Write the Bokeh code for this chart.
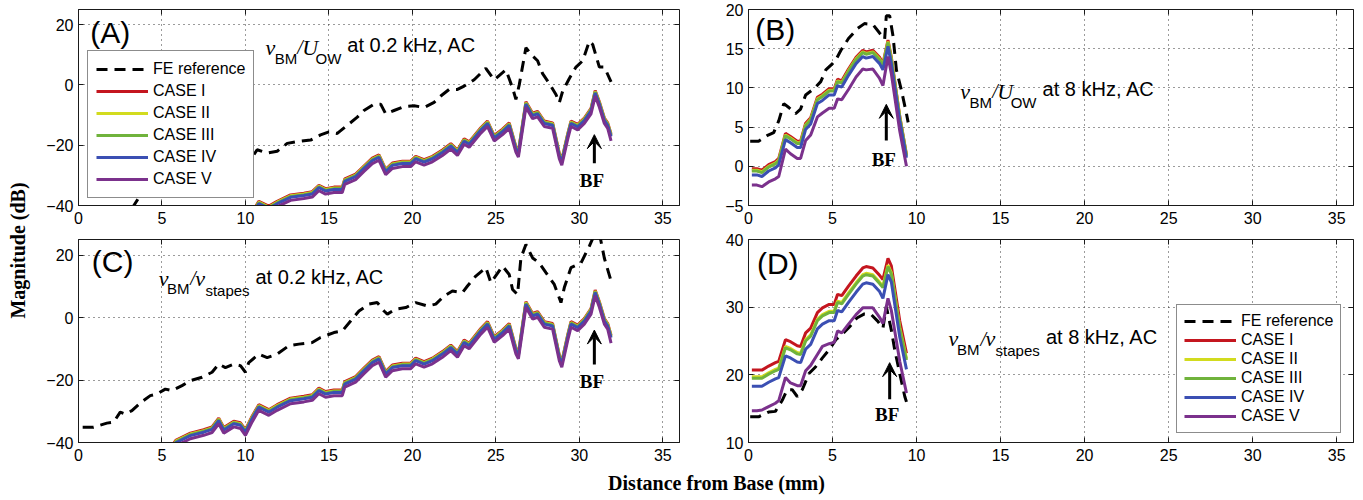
import math
from bokeh.plotting import figure
from bokeh.models import (Range1d, FixedTicker, LinearAxis, Label, Arrow, VeeHead,
                          Legend, LegendItem)
from bokeh.layouts import row, column
from bokeh.embed import file_html
from bokeh.resources import INLINE

# ------------------------------------------------------------------ data
case_names = ["CASE I", "CASE II", "CASE III", "CASE IV", "CASE V"]
case_colors = ["#C4161F", "#D2DB1E", "#70B33C", "#3B4FB3", "#7B318C"]

x_ticks = [0, 5, 10, 15, 20, 25, 30, 35]
y_ticks_ac = [-40, -20, 0, 20]
y_ticks_b = [-5, 0, 5, 10, 15, 20]
y_ticks_d = [10, 20, 30, 40]

# panels A and C (0.2 kHz) : distance grid of the model curves
x_low = [5.5, 5.85, 6.7, 7.5, 8.0, 8.4, 8.7, 9.3, 9.7, 10.0, 10.4, 10.8, 11.4, 11.9, 12.7,
         13.5, 14.0, 14.4, 14.8, 15.3, 15.8, 15.95, 16.6, 17.1, 17.6, 18.0, 18.4, 18.8,
         19.4, 19.9, 20.2, 20.7, 21.2, 21.8, 22.3, 22.7, 23.1, 23.4, 24.1, 24.5, 24.9,
         25.4, 25.8, 26.2, 26.35, 26.8, 27.2, 27.5, 27.9, 28.4, 28.8, 28.95, 29.3, 29.5,
         29.9, 30.3, 30.7, 30.95, 31.2, 31.5, 31.7, 31.9]

a_case1 = [-52.4, -49.9, -47.7, -46.6, -45.7, -42.9, -45.9, -43.9, -44.4, -46.6, -42.3, -38.6, -40.2, -38.6, -36.5, -35.9, -35.4, -33.3, -34.4, -33.9, -33.9, -31.2, -29.6, -26.9, -24.3, -23.2, -28.0, -25.9, -25.3, -25.3, -23.7, -24.8, -23.7, -21.6, -19.5, -21.6, -17.9, -18.9, -14.2, -12.0, -16.8, -14.7, -12.6, -20.5, -22.1, -5.6, -9.4, -8.8, -12.0, -12.6, -22.7, -24.8, -16.3, -12.0, -13.1, -11.0, -7.8, -1.9, -5.6, -11.0, -12.6, -16.3]
a_case2 = [-52.7, -50.2, -48.0, -46.9, -46.0, -43.2, -46.2, -44.2, -44.7, -46.9, -42.6, -38.9, -40.5, -38.9, -36.8, -36.2, -35.7, -33.6, -34.7, -34.2, -34.2, -31.5, -29.9, -27.2, -24.6, -23.5, -28.3, -26.2, -25.6, -25.6, -24.0, -25.1, -24.0, -21.9, -19.8, -21.9, -18.2, -19.2, -14.5, -12.3, -17.1, -15.0, -12.9, -20.8, -22.4, -5.9, -9.7, -9.1, -12.3, -12.9, -23.0, -25.1, -16.6, -12.3, -13.4, -11.3, -8.1, -2.2, -5.9, -11.3, -12.9, -16.6]
a_case3 = [-52.9, -50.4, -48.2, -47.1, -46.2, -43.4, -46.4, -44.4, -44.9, -47.1, -42.8, -39.1, -40.7, -39.1, -37.0, -36.4, -35.9, -33.8, -34.9, -34.4, -34.4, -31.7, -30.1, -27.4, -24.8, -23.7, -28.5, -26.4, -25.8, -25.8, -24.2, -25.3, -24.2, -22.1, -20.0, -22.1, -18.4, -19.4, -14.7, -12.5, -17.3, -15.2, -13.1, -21.0, -22.6, -6.1, -9.9, -9.3, -12.5, -13.1, -23.2, -25.3, -16.8, -12.5, -13.6, -11.5, -8.3, -2.4, -6.1, -11.5, -13.1, -16.8]
a_case4 = [-53.2, -50.7, -48.5, -47.4, -46.5, -43.7, -46.7, -44.7, -45.2, -47.4, -43.1, -39.4, -41.0, -39.4, -37.3, -36.7, -36.2, -34.1, -35.2, -34.7, -34.7, -32.0, -30.4, -27.7, -25.1, -24.0, -28.8, -26.7, -26.1, -26.1, -24.5, -25.6, -24.5, -22.4, -20.3, -22.4, -18.7, -19.7, -15.0, -12.8, -17.6, -15.5, -13.4, -21.3, -22.9, -6.4, -10.2, -9.6, -12.8, -13.4, -23.5, -25.6, -17.1, -12.8, -13.9, -11.8, -8.6, -2.7, -6.4, -11.8, -13.4, -17.1]
a_case5 = [-54.2, -51.7, -49.5, -48.4, -47.5, -44.7, -47.7, -45.7, -46.2, -48.4, -44.1, -40.4, -42.0, -40.4, -38.3, -37.7, -37.2, -35.1, -36.2, -35.7, -35.7, -33.0, -31.4, -28.7, -26.1, -25.0, -29.8, -27.7, -27.1, -27.1, -25.5, -26.6, -25.5, -23.4, -21.3, -23.4, -19.7, -20.7, -16.0, -13.8, -18.6, -16.5, -14.4, -22.3, -23.9, -7.4, -11.2, -10.6, -13.8, -14.4, -24.5, -26.6, -18.1, -13.8, -14.9, -12.8, -9.6, -3.7, -7.4, -12.8, -14.4, -18.6]

c_case1 = [-41.7, -39.2, -37.0, -35.9, -35.0, -32.2, -35.2, -33.2, -33.7, -35.9, -31.6, -27.9, -29.5, -27.9, -25.8, -25.2, -24.7, -22.6, -23.7, -23.2, -23.2, -20.5, -18.9, -16.2, -13.6, -12.5, -17.3, -15.2, -14.6, -14.6, -13.0, -14.1, -13.0, -10.9, -8.8, -10.9, -7.2, -8.2, -3.5, -1.3, -6.1, -4.0, -1.9, -9.8, -11.4, 5.1, 1.3, 1.9, -1.3, -1.9, -12.0, -14.1, -5.6, -1.3, -2.4, -0.3, 2.9, 8.8, 5.1, -0.3, -1.9, -5.6]
c_case2 = [-42.0, -39.5, -37.3, -36.2, -35.3, -32.5, -35.5, -33.5, -34.0, -36.2, -31.9, -28.2, -29.8, -28.2, -26.1, -25.5, -25.0, -22.9, -24.0, -23.5, -23.5, -20.8, -19.2, -16.5, -13.9, -12.8, -17.6, -15.5, -14.9, -14.9, -13.3, -14.4, -13.3, -11.2, -9.1, -11.2, -7.5, -8.5, -3.8, -1.6, -6.4, -4.3, -2.2, -10.1, -11.7, 4.8, 1.0, 1.6, -1.6, -2.2, -12.3, -14.4, -5.9, -1.6, -2.7, -0.6, 2.6, 8.5, 4.8, -0.6, -2.2, -5.9]
c_case3 = [-42.2, -39.7, -37.5, -36.4, -35.5, -32.7, -35.7, -33.7, -34.2, -36.4, -32.1, -28.4, -30.0, -28.4, -26.3, -25.7, -25.2, -23.1, -24.2, -23.7, -23.7, -21.0, -19.4, -16.7, -14.1, -13.0, -17.8, -15.7, -15.1, -15.1, -13.5, -14.6, -13.5, -11.4, -9.3, -11.4, -7.7, -8.7, -4.0, -1.8, -6.6, -4.5, -2.4, -10.3, -11.9, 4.6, 0.8, 1.4, -1.8, -2.4, -12.5, -14.6, -6.1, -1.8, -2.9, -0.8, 2.4, 8.3, 4.6, -0.8, -2.4, -6.1]
c_case4 = [-42.5, -40.0, -37.8, -36.7, -35.8, -33.0, -36.0, -34.0, -34.5, -36.7, -32.4, -28.7, -30.3, -28.7, -26.6, -26.0, -25.5, -23.4, -24.5, -24.0, -24.0, -21.3, -19.7, -17.0, -14.4, -13.3, -18.1, -16.0, -15.4, -15.4, -13.8, -14.9, -13.8, -11.7, -9.6, -11.7, -8.0, -9.0, -4.3, -2.1, -6.9, -4.8, -2.7, -10.6, -12.2, 4.3, 0.5, 1.1, -2.1, -2.7, -12.8, -14.9, -6.4, -2.1, -3.2, -1.1, 2.1, 8.0, 4.3, -1.1, -2.7, -6.4]
c_case5 = [-43.5, -41.0, -38.8, -37.7, -36.8, -34.0, -37.0, -35.0, -35.5, -37.7, -33.4, -29.7, -31.3, -29.7, -27.6, -27.0, -26.5, -24.4, -25.5, -25.0, -25.0, -22.3, -20.7, -18.0, -15.4, -14.3, -19.1, -17.0, -16.4, -16.4, -14.8, -15.9, -14.8, -12.7, -10.6, -12.7, -9.0, -10.0, -5.3, -3.1, -7.9, -5.8, -3.7, -11.6, -13.2, 3.3, -0.5, 0.1, -3.1, -3.7, -13.8, -15.9, -7.4, -3.1, -4.2, -2.1, 1.1, 7.0, 3.3, -2.1, -3.7, -8.2]

a_fe_x = [3.2, 3.6, 4.3, 5.2, 6.2, 7.4, 8.4, 9.3, 10.0, 10.7, 11.3, 11.9, 12.5, 13.1, 13.9, 14.5,
          15.0, 15.5, 16.1, 16.7, 17.1, 17.7, 18.1, 18.4, 18.9, 19.5, 20.1, 20.7, 21.3, 21.7,
          22.2, 22.7, 23.1, 23.7, 24.4, 24.9, 25.6, 26.0, 26.2, 26.4, 26.8, 27.2, 27.5, 27.8,
          28.2, 28.6, 28.8, 29.0, 29.4, 29.8, 30.2, 30.6, 30.8, 31.2, 31.5, 31.9]
a_fe_y = [-41.0, -37.5, -36.0, -34.0, -32.8, -30.0, -26.0, -26.0, -27.5, -21.5, -22.6, -22.0,
          -19.4, -18.8, -18.3, -16.6, -15.6, -16.1, -13.4, -10.7, -8.5, -6.4, -6.4, -9.6, -8.5,
          -7.2, -6.9, -7.5, -5.8, -3.7, -1.5, -1.5, -0.4, 1.7, 5.5, 1.7, 5.0, -1.0, -4.8, 0.0,
          12.3, 9.6, 8.0, 3.7, 0.5, -3.2, -5.9, -2.1, 2.1, 5.9, 8.0, 14.5, 13.4, 5.9, 5.9, 1.0]

c_fe_x = [0.25, 0.9, 1.7, 2.1, 2.5, 2.8, 3.2, 3.75, 4.3, 4.7, 5.2, 5.6, 6.2, 6.7, 7.4, 8.0, 8.4,
          8.8, 9.3, 9.7, 10.0, 10.2, 10.8, 11.3, 11.9, 12.6, 13.2, 14.0, 14.5, 15.3, 15.8, 16.3,
          16.8, 17.4, 17.9, 18.3, 18.5, 19.0, 19.6, 20.2, 20.9, 21.4, 21.9, 22.4, 23.0, 23.3,
          23.8, 24.4, 24.7, 25.4, 25.8, 26.0, 26.3, 26.5, 26.8, 27.2, 27.6, 28.0, 28.5, 28.9,
          29.1, 29.5, 30.1, 30.6, 30.9, 31.2, 31.5, 31.9]
c_fe_y = [-35.1, -35.1, -33.8, -33.5, -30.3, -30.9, -29.8, -27.1, -25.0, -24.5, -22.9, -23.4,
          -21.8, -20.2, -19.1, -17.5, -14.9, -16.0, -14.9, -15.4, -17.5, -14.4, -11.7, -12.8,
          -11.7, -9.0, -8.5, -8.0, -6.4, -4.8, -4.3, -1.1, 2.1, 4.3, 4.8, 2.1, 1.1, 2.7, 3.2,
          4.8, 3.7, 4.3, 6.9, 8.5, 8.0, 10.1, 13.3, 16.0, 11.2, 16.5, 13.8, 9.0, 7.4, 19.1,
          23.4, 19.1, 17.5, 14.4, 10.6, 4.8, 9.6, 16.0, 17.5, 22.9, 26.5, 27.0, 19.0, 11.7]

# panels B and D (8 kHz)
x_high = [0.2, 0.5, 0.8, 1.2, 1.6, 1.8, 2.2, 2.5, 2.9, 3.1, 3.4, 3.7, 4.1, 4.4, 4.8, 5.1, 5.3,
          5.55, 5.95, 6.4, 6.8, 7.0, 7.4, 7.8, 8.0, 8.3, 8.5, 9.0, 9.4]

b_case1 = [-0.3, -0.3, -0.5, 0.2, 0.6, 1.0, 4.2, 3.8, 3.2, 3.2, 5.5, 6.2, 8.8, 9.2, 9.9, 9.9, 11.1, 10.9, 12.4, 13.9, 14.8, 14.6, 14.8, 13.9, 13.1, 16.1, 13.9, 6.4, 1.5]
b_case2 = [-0.5, -0.5, -0.7, 0.0, 0.4, 0.8, 4.0, 3.6, 3.0, 3.0, 5.3, 6.0, 8.6, 9.0, 9.7, 9.7, 10.9, 10.7, 12.2, 13.7, 14.6, 14.4, 14.6, 13.7, 12.9, 15.9, 13.7, 6.3, 1.4]
b_case3 = [-0.6, -0.6, -0.8, -0.1, 0.3, 0.7, 3.9, 3.5, 2.9, 2.9, 5.2, 5.9, 8.5, 8.9, 9.6, 9.6, 10.8, 10.6, 12.1, 13.6, 14.5, 14.3, 14.5, 13.6, 12.8, 15.8, 13.6, 6.2, 1.3]
b_case4 = [-1.1, -1.1, -1.3, -0.6, -0.2, 0.2, 3.4, 3.0, 2.4, 2.4, 4.7, 5.4, 8.0, 8.4, 9.1, 9.1, 10.3, 10.1, 11.6, 13.1, 14.0, 13.8, 14.0, 13.1, 12.3, 15.3, 13.1, 5.8, 1.1]
b_case5 = [-2.4, -2.4, -2.6, -2.0, -1.6, -1.3, 2.2, 1.6, 1.0, 1.0, 3.3, 4.0, 6.3, 6.8, 7.4, 7.4, 8.6, 8.5, 9.8, 11.4, 12.4, 12.3, 12.4, 11.2, 10.3, 14.0, 11.8, 4.5, 0.0]

d_case1 = [20.7, 20.7, 20.7, 21.3, 21.8, 22.0, 25.2, 24.9, 24.3, 24.2, 26.2, 26.9, 29.2, 29.9, 30.4, 30.4, 31.9, 31.7, 33.1, 34.6, 35.8, 36.0, 35.8, 34.7, 34.1, 37.2, 36.1, 28.0, 23.2]
d_case2 = [19.7, 19.7, 19.7, 20.3, 20.8, 21.0, 24.2, 23.9, 23.3, 23.2, 25.2, 25.9, 28.2, 28.9, 29.4, 29.4, 30.9, 30.7, 32.1, 33.6, 34.8, 35.0, 34.8, 33.7, 33.1, 36.2, 35.1, 27.0, 22.4]
d_case3 = [19.5, 19.5, 19.5, 20.1, 20.6, 20.8, 24.0, 23.7, 23.1, 23.0, 25.0, 25.7, 28.0, 28.7, 29.2, 29.2, 30.7, 30.5, 31.9, 33.4, 34.6, 34.8, 34.6, 33.5, 32.9, 36.0, 34.9, 26.8, 22.2]
d_case4 = [18.3, 18.3, 18.3, 18.9, 19.4, 19.6, 22.8, 22.5, 21.9, 21.8, 23.8, 24.5, 26.8, 27.5, 28.0, 28.0, 29.5, 29.3, 30.7, 32.2, 33.4, 33.6, 33.4, 32.3, 31.3, 34.8, 33.7, 25.6, 20.8]
d_case5 = [14.7, 14.7, 14.8, 15.3, 15.8, 16.2, 19.6, 18.8, 18.4, 18.4, 20.6, 21.4, 23.0, 24.2, 24.6, 24.8, 26.5, 26.2, 27.5, 28.9, 29.9, 29.9, 29.9, 28.5, 27.6, 31.3, 29.5, 22.0, 17.3]

b_fe_x = [0.1, 0.6, 1.1, 1.5, 1.8, 2.1, 2.4, 2.8, 3.1, 3.4, 3.9, 4.3, 4.6, 5.0, 5.2, 5.5, 5.95,
          6.5, 6.9, 7.4, 7.8, 8.1, 8.2, 8.4, 8.6, 8.8, 9.1, 9.4, 9.5]
b_fe_y = [3.2, 3.2, 3.9, 4.3, 5.8, 8.0, 7.5, 6.7, 7.3, 9.1, 9.9, 10.8, 12.3, 13.1, 13.6, 14.8,
          16.3, 17.6, 18.2, 18.1, 17.0, 16.2, 19.2, 19.2, 16.6, 12.3, 9.7, 6.7, 5.6]

d_fe_x = [0.1, 0.6, 1.2, 1.6, 2.0, 2.3, 2.6, 2.9, 3.2, 3.6, 4.0, 4.4, 4.8, 5.2, 5.65, 6.05, 6.45,
          6.9, 7.3, 7.7, 8.0, 8.2, 8.5, 8.7, 9.0, 9.3, 9.4]
d_fe_y = [13.8, 13.8, 14.5, 14.6, 16.2, 17.8, 17.8, 16.8, 17.8, 20.2, 21.2, 22.5, 23.7, 25.2,
          26.2, 27.2, 28.4, 29.0, 28.9, 27.9, 26.9, 30.1, 26.6, 23.7, 20.2, 16.8, 16.0]

# ------------------------------------------------------------------ helpers
SANS = "Liberation Sans"
SERIF = "Liberation Serif"
INK = "#1a1a1a"


def make_panel(width, height, left, right, top, bottom, yr, yticks):
    p = figure(width=width, height=height, x_range=Range1d(0, 36), y_range=Range1d(*yr),
               output_backend="svg", toolbar_location=None,
               min_border_left=left, min_border_right=right,
               min_border_top=top, min_border_bottom=bottom)
    p.outline_line_color = INK
    p.outline_line_width = 1
    p.background_fill_color = "white"
    p.border_fill_color = "white"
    p.xaxis.ticker = FixedTicker(ticks=x_ticks)
    p.yaxis.ticker = FixedTicker(ticks=yticks)
    for ax in (p.xaxis[0], p.yaxis[0]):
        ax.axis_line_color = INK
        ax.major_tick_in = 5
        ax.major_tick_out = 0
        ax.major_tick_line_color = INK
        ax.minor_tick_line_color = None
        ax.major_label_text_font = SANS
        ax.major_label_text_font_size = "16px"
        ax.major_label_text_color = "black"
    p.xaxis.major_label_standoff = 6
    p.yaxis.major_label_standoff = 5
    for g in (p.xgrid[0], p.ygrid[0]):
        g.grid_line_color = "#222222"
        g.grid_line_dash = "1 4"
        g.grid_line_width = 1
        g.grid_line_alpha = 0.9
    # mirrored tick marks on top and right (box on); their labels are not drawn
    top_ax = LinearAxis(ticker=FixedTicker(ticks=x_ticks), major_label_text_font_size="0px",
                        major_label_text_color=None,
                        major_tick_in=5, major_tick_out=0, minor_tick_line_color=None,
                        axis_line_color=None, major_label_standoff=0,
                        major_tick_line_color=INK)
    right_ax = LinearAxis(ticker=FixedTicker(ticks=yticks), major_label_text_font_size="0px",
                          major_label_text_color=None,
                          major_tick_in=5, major_tick_out=0, minor_tick_line_color=None,
                          axis_line_color=None, major_label_standoff=0,
                          major_tick_line_color=INK)
    p.add_layout(top_ax, "above")
    p.add_layout(right_ax, "right")
    return p


def draw_curves(p, fe_x, fe_y, xs, cases):
    rs = [p.line(fe_x, fe_y, line_color="black", line_width=3, line_dash="11 7")]
    for ys, col in zip(cases, case_colors):
        rs.append(p.line(xs, ys, line_color=col, line_width=3))
    return rs


def add_legend(p, rs, loc, padding, row_h, spacing):
    items = [LegendItem(label="FE reference", renderers=[rs[0]])]
    items += [LegendItem(label=n, renderers=[r]) for n, r in zip(case_names, rs[1:])]
    lg = Legend(items=items, location=loc, glyph_width=52, glyph_height=row_h,
                label_height=row_h, label_standoff=5, padding=padding, spacing=spacing,
                margin=0, label_text_font=SANS, label_text_font_size="16px",
                label_text_color="black", border_line_color=INK, border_line_width=1,
                background_fill_color="white", background_fill_alpha=1.0)
    p.add_layout(lg)


def txt(p, x, y, s, size, font=SANS, style="normal", align="left"):
    p.add_layout(Label(x=x, y=y, text=s, text_font=font, text_font_size=f"{size}px",
                       text_font_style=style, text_align=align, text_baseline="middle",
                       text_color="black"))


def title(p, pieces):
    for (x, y, s, kind) in pieces:
        if kind == "var":
            txt(p, x, y, s, 22, SERIF, "italic")
        elif kind == "slash":
            txt(p, x, y, s, 20, SERIF, "italic")
        elif kind == "sub":
            txt(p, x, y, s, 15, SANS)
        else:
            txt(p, x, y, s, 20, SANS)


def bf(p, x, y0, y1, ylab):
    p.add_layout(Arrow(end=VeeHead(size=14, line_color="black", fill_color="black",
                                   line_width=1),
                       x_start=x, y_start=y0, x_end=x, y_end=y1, line_width=3,
                       line_color="black"))
    txt(p, x - 0.15, ylab, "BF", 19, SERIF, "bold", "center")


# ------------------------------------------------------------------ panels
pA = make_panel(649, 232, 38, 10, 9, 27, (-40, 25), y_ticks_ac)
pB = make_panel(674, 232, 59, 10, 9, 27, (-5, 20), y_ticks_b)
pC = make_panel(649, 236, 38, 10, 7, 26, (-40, 25), y_ticks_ac)
pD = make_panel(674, 236, 59, 10, 7, 26, (10, 40), y_ticks_d)

rA = draw_curves(pA, a_fe_x, a_fe_y, x_low, [a_case1, a_case2, a_case3, a_case4, a_case5])
rB = draw_curves(pB, b_fe_x, b_fe_y, x_high, [b_case1, b_case2, b_case3, b_case4, b_case5])
rC = draw_curves(pC, c_fe_x, c_fe_y, x_low, [c_case1, c_case2, c_case3, c_case4, c_case5])
rD = draw_curves(pD, d_fe_x, d_fe_y, x_high, [d_case1, d_case2, d_case3, d_case4, d_case5])

add_legend(pA, rA, (9, 7), 8, 20, 2)
add_legend(pD, rD, (428, 9), 7, 18, 1)

txt(pA, 0.7, 17.5, "(A)", 30)
txt(pB, 0.4, 17.5, "(B)", 30)
txt(pC, 0.8, 17.9, "(C)", 30)
txt(pD, 0.5, 36.5, "(D)", 30)

title(pA, [(11.2, 12.5, "v", "var"), (11.75, 8.8, "BM", "sub"), (13.1, 12.5, "/", "slash"),
           (13.4, 12.5, "U", "var"), (14.2, 8.8, "OW", "sub"),
           (16.1, 13.1, "at 0.2 kHz, AC", "main")])
title(pC, [(4.8, 12.6, "v", "var"), (5.3, 9.2, "BM", "sub"), (6.7, 12.6, "/", "slash"),
           (7.0, 12.6, "v", "var"), (7.6, 8.6, "stapes", "sub"),
           (10.6, 13.1, "at 0.2 kHz, AC", "main")])
title(pB, [(12.6, 9.6, "v", "var"), (13.15, 8.2, "BM", "sub"), (14.5, 9.6, "/", "slash"),
           (14.8, 9.6, "U", "var"), (15.6, 8.2, "OW", "sub"),
           (17.5, 9.9, "at 8 kHz, AC", "main")])
title(pD, [(11.9, 25.3, "v", "var"), (12.4, 23.7, "BM", "sub"), (13.8, 25.3, "/", "slash"),
           (14.1, 25.3, "v", "var"), (14.7, 23.6, "stapes", "sub"),
           (17.7, 25.6, "at 8 kHz, AC", "main")])

bf(pA, 30.9, -26.0, -16.5, -31.8)
bf(pC, 30.9, -15.0, -4.0, -20.5)
bf(pB, 8.2, 3.3, 7.9, 0.9)
bf(pD, 8.4, 16.4, 21.8, 14.2)

# ------------------------------------------------------------------ shared axis labels
yfig = figure(width=40, height=500, x_range=Range1d(0, 40), y_range=Range1d(0, 500),
              x_axis_type=None, y_axis_type=None, output_backend="svg",
              toolbar_location=None, min_border=0)
yfig.outline_line_color = None
yfig.add_layout(Label(x=17, y=250, text="Magnitude (dB)", angle=math.pi / 2,
                      text_font=SERIF, text_font_style="bold", text_font_size="20px",
                      text_align="center", text_baseline="middle", text_color="black"))

xfig = figure(width=1323, height=32, x_range=Range1d(0, 1323), y_range=Range1d(0, 32),
              x_axis_type=None, y_axis_type=None, output_backend="svg",
              toolbar_location=None, min_border=0)
xfig.outline_line_color = None
xfig.add_layout(Label(x=676, y=18, text="Distance from Base (mm)", text_font=SERIF,
                      text_font_style="bold", text_font_size="20px", text_align="center",
                      text_baseline="middle", text_color="black"))

layout = row(yfig, column(row(pA, pB), row(pC, pD), xfig))

open("out.html", "w").write(file_html(layout, INLINE))
